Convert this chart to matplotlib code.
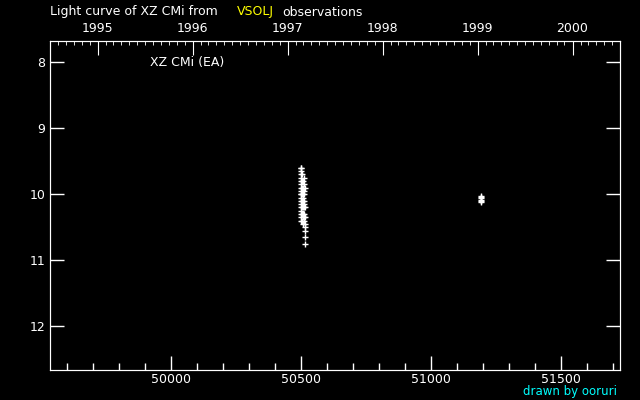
import datetime
import matplotlib
matplotlib.use("Agg")
import matplotlib.pyplot as plt
from matplotlib.ticker import MultipleLocator, FixedLocator

# JD - 2400000 and visual magnitudes (VSOLJ)
jd = [50500, 50500, 50500, 50500, 50500, 50500, 50500, 50500, 50500, 50500,
      50501, 50501, 50501, 50501, 50501, 50501, 50501, 50501, 50501,
      50503, 50503, 50503, 50503, 50503, 50503, 50503, 50503,
      50508, 50508, 50508, 50508, 50508, 50508, 50508, 50508, 50508,
      50512, 50512, 50512, 50512, 50512, 50512, 50512, 50512, 50512, 50512,
      50515, 50515, 50515, 50515, 50515, 50515, 50515, 50515,
      51191, 51191, 51191, 51192, 51192, 51192]
mag = [9.6, 9.7, 9.8, 9.9, 10.0, 10.05, 10.1, 10.2, 10.3, 10.35,
       9.6, 9.65, 9.75, 9.85, 9.95, 10.0, 10.15, 10.25, 10.4,
       9.7, 9.8, 9.9, 10.0, 10.1, 10.2, 10.3, 10.4,
       9.8, 9.9, 10.0, 10.05, 10.1, 10.2, 10.3, 10.35, 10.45,
       9.75, 9.85, 9.95, 10.0, 10.1, 10.15, 10.2, 10.3, 10.35, 10.4,
       9.9, 10.2, 10.35, 10.45, 10.5, 10.55, 10.65, 10.75,
       10.02, 10.06, 10.1, 10.04, 10.08, 10.12]

years = [1995, 1996, 1997, 1998, 1999, 2000]
star = "XZ CMi (EA)"


def to_jd(d):
    return d.toordinal() + 1721424.5 - 2400000


plt.rcParams["font.family"] = "DejaVu Sans"
fig = plt.figure(figsize=(6.4, 4.0), dpi=100, facecolor="black")
ax = fig.add_axes([50 / 640, 30 / 400, 570 / 640, 329 / 400], facecolor="black")

ax.plot(jd, mag, "+", color="white", markersize=4, mew=1)

ax.set_xlim(49535, 51727)
ax.set_ylim(12.66, 7.68)

ax.xaxis.set_major_locator(MultipleLocator(500))
ax.xaxis.set_minor_locator(MultipleLocator(100))
ax.yaxis.set_major_locator(MultipleLocator(1))
ax.tick_params(which="both", direction="in", colors="white", labelsize=9,
               top=False, right=True, width=1)
ax.tick_params(which="major", length=10)
ax.tick_params(which="minor", length=5)
ax.tick_params(axis="x", pad=2)
for s in ax.spines.values():
    s.set_color("white")

# year axis on top
ax2 = ax.twiny()
ax2.set_xlim(ax.get_xlim())
ax2.xaxis.set_major_locator(FixedLocator([to_jd(datetime.date(y, 1, 1)) for y in years]))
ax2.set_xticklabels([str(y) for y in years])
months = [to_jd(datetime.date(y, m, 1)) for y in range(1994, 2001) for m in range(1, 13)]
ax2.xaxis.set_minor_locator(FixedLocator(months))
ax2.tick_params(which="both", direction="in", colors="white", labelsize=9, pad=4)
ax2.tick_params(which="major", length=10)
ax2.tick_params(which="minor", length=3)
for s in ax2.spines.values():
    s.set_color("white")

ax.text(0.175, 0.955, star, transform=ax.transAxes, color="white", fontsize=9,
        ha="left", va="top")

fig.text(50 / 640, 1 - 12 / 400, "Light curve of XZ CMi from", color="white",
         fontsize=9, va="center", ha="left")
fig.text(237 / 640, 1 - 12 / 400, "VSOLJ", color="yellow", fontsize=9,
         va="center", ha="left")
fig.text(282 / 640, 1 - 12 / 400, "observations", color="white", fontsize=9,
         va="center", ha="left")
fig.text(617 / 640, 1 - 391 / 400, "drawn by ooruri", color="cyan", fontsize=8.5,
         va="center", ha="right")

fig.savefig("out.png", dpi=100, facecolor="black")
